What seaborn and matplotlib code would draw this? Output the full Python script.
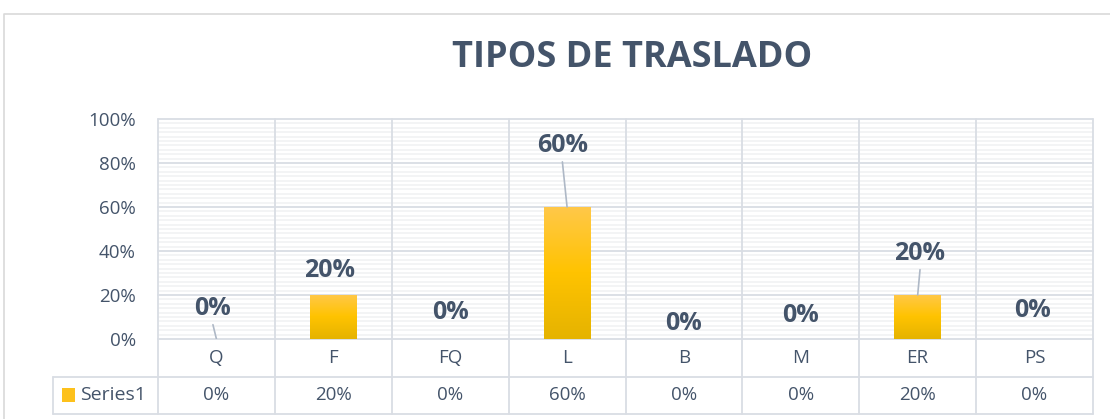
import numpy as np
import pandas as pd
import seaborn as sns
import matplotlib.pyplot as plt
from matplotlib.colors import LinearSegmentedColormap
from matplotlib.patches import Rectangle
from matplotlib.lines import Line2D

categories = ['Q', 'F', 'FQ', 'L', 'B', 'M', 'ER', 'PS']
values = [0, 20, 0, 60, 0, 0, 20, 0]
series_name = 'Series1'
title = 'TIPOS DE TRASLADO'
y_ticks = [0, 20, 40, 60, 80, 100]

# where the data labels sit (label centre, in % and category offsets), as placed in the original
label_y = [14, 31, 12, 88, 7, 10.5, 39, 13]
label_dx = [-0.03, -0.03, 0, -0.04, 0, 0, 0.02, -0.02]
leader = [True, False, False, True, False, False, True, False]

TXT = '#44546A'
GRID = '#D9DDE4'
MINOR = '#F1F2F4'

sns.set_style('white')
plt.rcParams['font.family'] = ['Open Sans', 'DejaVu Sans']

W, H = 1110, 419
fig = plt.figure(figsize=(W / 100, H / 100), dpi=100)

# plot area in pixels
x_left, x_right, y_top, y_zero, y_row, y_bot, x_tab = 158, 1093, 119, 339, 377, 414, 53
ax = fig.add_axes([x_left / W, 1 - y_zero / H, (x_right - x_left) / W, (y_zero - y_top) / H])

df = pd.DataFrame({'cat': categories, 'val': values})
sns.barplot(data=df, x='cat', y='val', color='#FFC000', width=0.4, saturation=1,
            edgecolor='none', ax=ax, zorder=3)

# gradient fill like the Excel bars
cmap = LinearSegmentedColormap.from_list('gold', ['#E5B300', '#FFC300', '#FFC84A'])
grad = np.linspace(0, 1, 256).reshape(-1, 1)
for p in ax.patches:
    if p.get_height() <= 0:
        continue
    x0, y0, w, h = p.get_x(), p.get_y(), p.get_width(), p.get_height()
    im = ax.imshow(grad, cmap=cmap, origin='lower', aspect='auto',
                   extent=[x0, x0 + w, y0, y0 + h], zorder=4)
    im.set_clip_path(p)

ax.set_xlim(-0.5, len(categories) - 0.5)
ax.set_ylim(0, 100)
for s in ax.spines.values():
    s.set_visible(False)

# gridlines
for yv in np.arange(2, 100, 2):
    if yv % 20:
        ax.axhline(yv, color=MINOR, lw=1.2, zorder=1)
for yv in y_ticks:
    ax.axhline(yv, color=GRID, lw=1.3, zorder=2, clip_on=False)
for xv in np.arange(-0.5, len(categories), 1):
    ax.axvline(xv, color=GRID, lw=1.3, zorder=2, clip_on=False)

ax.set_xticks([])
ax.set_xlabel('')
ax.set_ylabel('')
ax.set_yticks(y_ticks)
ax.set_yticklabels([f'{v}%' for v in y_ticks], fontsize=13.5, color=TXT)
ax.tick_params(axis='y', length=0, pad=16)

# data labels and leader lines
for i, v in enumerate(values):
    ax.text(i + label_dx[i], label_y[i], f'{v}%', ha='center', va='center',
            fontsize=18, fontweight='bold', color=TXT, zorder=5)
    if leader[i]:
        ax.plot([i + label_dx[i], i], [label_y[i] - 7.5, v], color='#AEB8C6', lw=1.2, zorder=5)

# data table below the plot
unit = (x_right - x_left) / len(categories)
tab = fig.add_axes([x_tab / W, 1 - y_bot / H, (x_right - x_tab) / W, (y_bot - y_zero) / H])
tab.set_xlim(-0.5 - (x_left - x_tab) / unit, len(categories) - 0.5)
tab.set_ylim(0, 2)
tab.axis('off')
n = len(categories)
x_edge = tab.get_xlim()[0]
tab.plot([x_edge, n - 0.5], [1, 1], color=GRID, lw=1.3, clip_on=False)
tab.plot([x_edge, n - 0.5], [0, 0], color=GRID, lw=1.3, clip_on=False)
tab.plot([x_edge] * 2, [0, 1], color=GRID, lw=1.3, clip_on=False)
for xv in np.arange(-0.5, n, 1):
    tab.plot([xv, xv], [0, 2], color=GRID, lw=1.3, clip_on=False)
for i, (c, v) in enumerate(zip(categories, values)):
    tab.text(i, 1.5, c, ha='center', va='center', fontsize=13.5, color=TXT)
    tab.text(i, 0.5, f'{v}%', ha='center', va='center', fontsize=13.5, color=TXT)

# legend key of the table row
px = 1 / unit
tab.add_patch(Rectangle((x_edge + 9 * px, 0.33), 13 * px, 0.36,
                        facecolor='#FDC11C', edgecolor='none', clip_on=False))
tab.text(x_edge + 27 * px, 0.5, series_name, ha='left', va='center',
         fontsize=14, color=TXT)

# title and outer chart border
fig.text(632 / W, 1 - 58 / H, title, ha='center', va='center', fontsize=26,
         fontweight='bold', color=TXT)
fig.add_artist(Line2D([4 / W, 4 / W, 1], [0, 1 - 14 / H, 1 - 14 / H], color='#D9D9D9', lw=1.2))

fig.savefig('out.png', dpi=100)
